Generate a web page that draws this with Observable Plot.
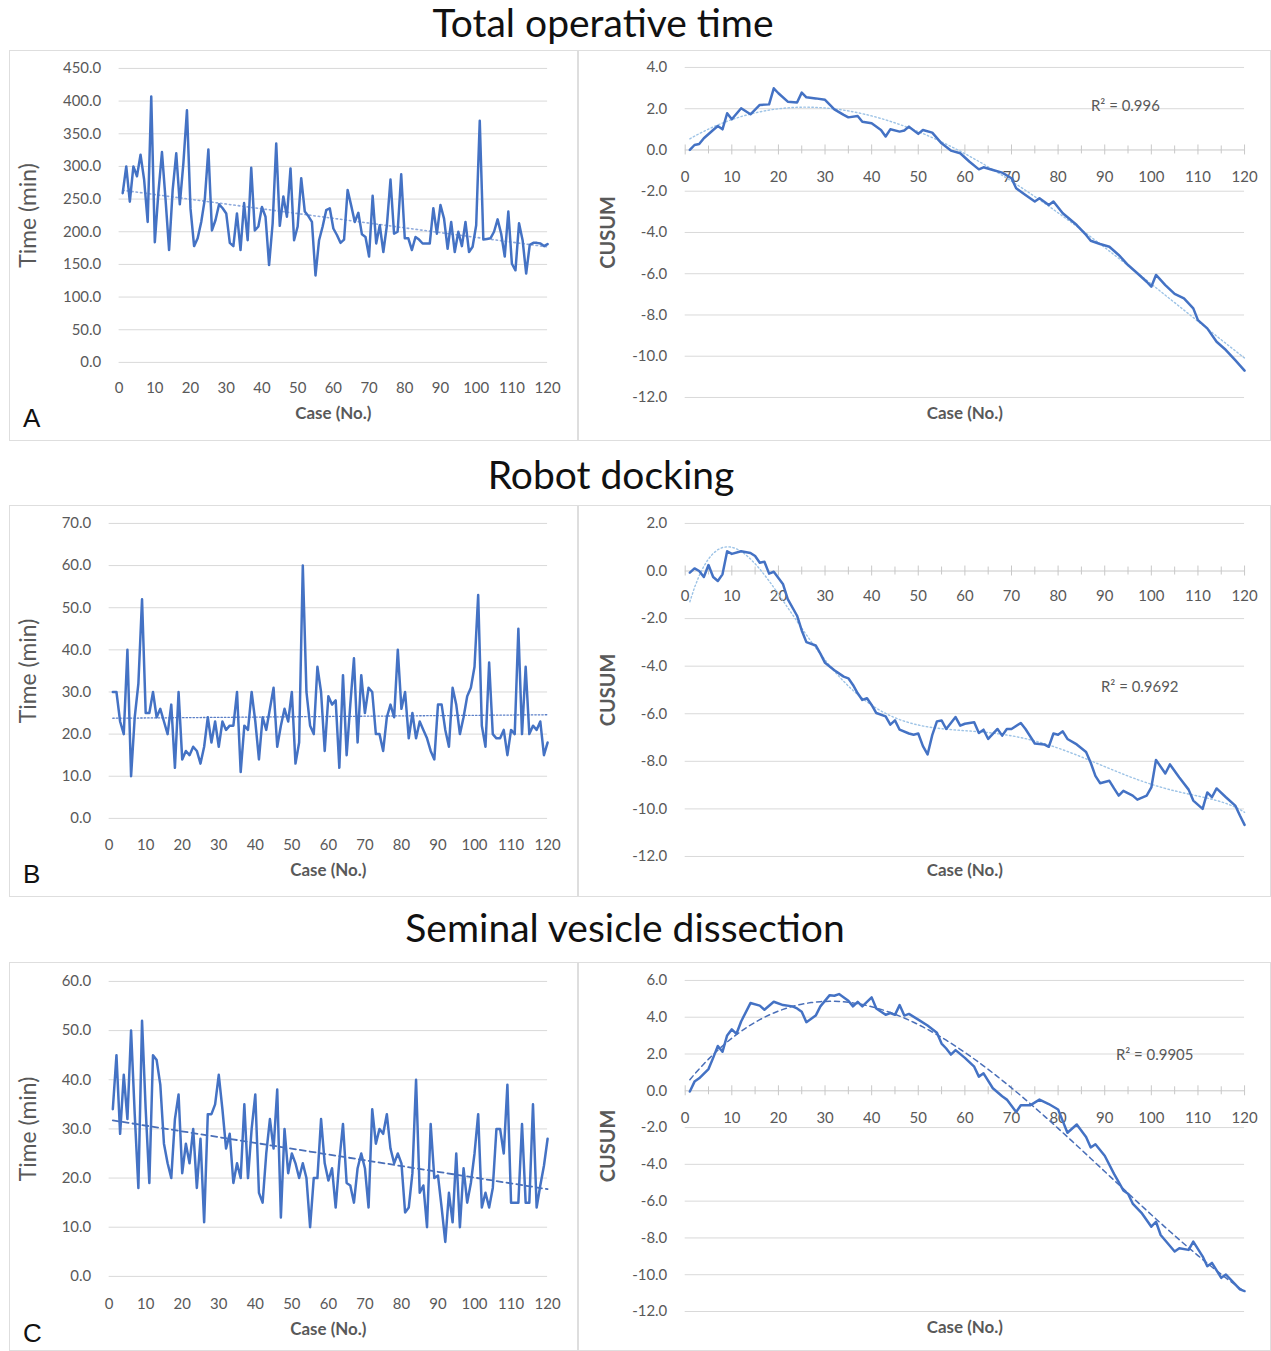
<!DOCTYPE html>
<html>
<head>
<meta charset="utf-8">
<script src="https://cdn.jsdelivr.net/npm/d3@7"></script>
<script src="https://cdn.jsdelivr.net/npm/@observablehq/plot@0.6"></script>
<style>
  html, body { margin: 0; padding: 0; background: #ffffff; }
  #fig { position: relative; width: 1271px; height: 1351px; overflow: hidden; font-family: Lato, "Open Sans", sans-serif; background: #fff; }
  .title { position: absolute; width: 800px; text-align: center; font-size: 39px; line-height: 39px; color: #111; white-space: nowrap; }
  .panel { position: absolute; border: 1px solid #dedede; box-sizing: border-box; }
  .panel svg { position: absolute; left: -1px; top: -1px; }
  .letter { position: absolute; font-family: "Liberation Sans", Arial, sans-serif; font-size: 26px; line-height: 26px; color: #111; }
</style>
</head>
<body>
<div id="fig"></div>
<script>
// ---------------- DATA ----------------
const titles = ["Total operative time", "Robot docking", "Seminal vesicle dissection"];
const panelLetters = ["A", "B", "C"];
const r2Labels = ["R² = 0.996", "R² = 0.9692", "R² = 0.9905"];
const xAxisLabel = "Case (No.)";
const timeLabel = "Time (min)";
const cusumLabel = "CUSUM";

const caseTicks = [0, 10, 20, 30, 40, 50, 60, 70, 80, 90, 100, 110, 120];
const caseMinorTicks = [5, 15, 25, 35, 45, 55, 65, 75, 85, 95, 105, 115];
const totalTimeTicks = [0, 50, 100, 150, 200, 250, 300, 350, 400, 450];
const dockingTimeTicks = [0, 10, 20, 30, 40, 50, 60, 70];
const svdTimeTicks = [0, 10, 20, 30, 40, 50, 60];
const cusumTotalTicks = [-12, -10, -8, -6, -4, -2, 0, 2, 4];
const cusumDockingTicks = [-12, -10, -8, -6, -4, -2, 0, 2];
const cusumSvdTicks = [-12, -10, -8, -6, -4, -2, 0, 2, 4, 6];

// case numbers 1..120
const cases = [];
for (let c = 1; c <= 120; c++) cases.push(c);

// Total operative time (min), cases 1..120
const totalTime = [
  259,300,246,300,285,318,280,215,407,184,
  260,322,250,172,264,320,242,305,386,235,
  178,190,215,250,326,202,218,242,236,228,
  183,178,228,172,244,187,298,202,208,238,
  223,149,213,335,209,254,223,297,187,208,
  282,231,224,215,133,187,208,233,236,205,
  195,183,188,264,240,215,229,196,192,162,
  255,182,210,169,210,280,197,200,288,190,
  190,172,192,188,182,182,182,236,197,241,
  220,174,215,169,200,178,215,169,177,210,
  370,188,189,190,200,219,197,162,231,151,
  141,213,187,136,180,183,183,182,178,181
];

// Robot docking time (min), cases 1..120
const dockingTime = [
  30,30,23,20,40,10,24,32,52,25,
  25,30,24,26,23,20,27,12,30,14,
  16,15,17,16,13,17,24,18,23,17,
  23,21,22,22,30,11,22,21,30,23,
  14,24,21,26,31,17,22,26,23,30,
  13,18,60,30,22,20,36,30,16,29,
  27,28,12,34,15,27,38,18,34,25,
  31,30,20,20,16,24,27,24,40,26,
  30,19,25,19,23,21,19,16,14,27,
  27,21,17,31,27,20,24,29,31,36,
  53,22,17,37,20,19,19,21,15,21,
  20,45,20,36,20,22,21,23,15,18
];

// Seminal vesicle dissection time (min), cases 1..120
const svdTime = [
  34,45,29,41,32,50,33,18,52,34,
  19,45,44,39,27,23,20,32,37,21,
  27,23,30,18,28,11,33,33,35,41,
  34,26,29,19,23,20,35,20,30,37,
  17,15,25,32,26,38,12,30,21,25,
  23,20,23,20,10,20,20,32,23,19.5,
  22,14,23.5,31,19,18.5,15,22,25,22,
  14,34,27,30,29,33,26,23,25,23,
  13,14,21,40,17,18.5,10,31,20,20.5,
  14,7,17,11,25,10,22,15,19,25,
  33,14,17,14,18,30,30,25,39,15,
  15,15,31,15,15,35,14,18.5,22.5,28
];

// CUSUM curves: [case, CUSUM]
const cusumTotal = [
  [1,0.0],[2,0.24],[3,0.29],[4,0.57],[6,0.97],[7,1.16],[8,1.0],[9,1.78],[10,1.49],[12,2.02],
  [14,1.73],[16,2.18],[18,2.21],[19,2.99],[20,2.75],[22,2.34],[24,2.3],[25,2.78],[26,2.55],[28,2.5],
  [30,2.43],[32,1.97],[34,1.7],[35,1.58],[37,1.65],[38,1.37],[40,1.29],[42,0.97],[43,0.65],[44,1.0],
  [46,0.89],[47,0.94],[48,1.13],[50,0.78],[51,0.97],[53,0.84],[55,0.32],[57,-0.03],[59,-0.16],[61,-0.57],
  [63,-0.94],[64,-0.84],[66,-0.97],[68,-1.1],[70,-1.37],[71,-1.86],[73,-2.18],[75,-2.5],[76,-2.34],[78,-2.67],
  [79,-2.5],[81,-3.07],[84,-3.64],[86,-4.12],[87,-4.4],[89,-4.56],[91,-4.69],[93,-5.09],[95,-5.58],[97,-5.98],
  [99,-6.39],[100,-6.63],[101,-6.06],[103,-6.55],[105,-6.98],[107,-7.2],[109,-7.68],[110,-8.25],[112,-8.65],[114,-9.3],
  [116,-9.7],[118,-10.19],[120,-10.7]
];

const cusumDocking = [
  [1,-0.07],[2,0.11],[3,0.0],[4,-0.25],[5,0.25],[6,-0.25],[7,-0.42],[8,-0.14],[9,0.83],[10,0.72],
  [12,0.83],[14,0.76],[15,0.63],[16,0.35],[17,0.39],[18,-0.11],[19,-0.03],[21,-0.56],[22,-1.18],[24,-1.88],
  [25,-2.5],[26,-2.99],[28,-3.13],[29,-3.47],[30,-3.86],[32,-4.17],[34,-4.44],[35,-4.51],[36,-4.79],[37,-5.14],
  [38,-5.42],[39,-5.35],[40,-5.63],[41,-5.97],[43,-6.11],[44,-6.46],[45,-6.28],[46,-6.67],[48,-6.83],[49,-6.88],
  [50,-6.83],[51,-7.36],[52,-7.71],[53,-6.9],[54,-6.32],[55,-6.28],[56,-6.64],[58,-6.14],[59,-6.5],[60,-6.42],
  [62,-6.36],[63,-6.81],[64,-6.67],[65,-7.06],[67,-6.64],[68,-6.92],[69,-6.64],[70,-6.64],[72,-6.39],[73,-6.64],
  [75,-7.25],[77,-7.29],[78,-7.39],[79,-6.83],[80,-6.88],[81,-6.74],[82,-7.06],[84,-7.29],[86,-7.61],[87,-8.06],
  [88,-8.61],[89,-8.92],[91,-8.82],[92,-9.14],[93,-9.44],[94,-9.24],[96,-9.44],[97,-9.61],[99,-9.44],[100,-9.1],
  [101,-7.94],[103,-8.51],[104,-8.13],[106,-8.68],[108,-9.19],[109,-9.65],[111,-10.0],[112,-9.31],[113,-9.51],[114,-9.14],
  [116,-9.51],[118,-9.86],[119,-10.28],[120,-10.67]
];

const cusumSvd = [
  [1,-0.04],[2,0.5],[3,0.68],[5,1.18],[6,1.79],[7,2.44],[8,2.12],[9,3.01],[10,3.34],[11,3.1],
  [12,3.77],[14,4.77],[16,4.63],[17,4.41],[19,4.84],[21,4.66],[23,4.59],[24,4.48],[25,4.3],[26,3.73],
  [28,4.09],[29,4.59],[31,5.2],[32,5.17],[33,5.26],[35,4.9],[36,4.59],[37,4.84],[38,4.59],[40,5.08],
  [41,4.48],[43,4.13],[44,4.23],[45,4.13],[46,4.66],[47,4.09],[48,4.18],[50,3.87],[52,3.55],[54,3.16],
  [55,2.57],[56,2.3],[57,1.97],[58,2.21],[60,1.79],[62,1.31],[63,0.77],[64,0.95],[66,0.14],[68,-0.3],
  [69,-0.48],[71,-1.15],[72,-0.79],[74,-0.79],[76,-0.48],[78,-0.72],[80,-1.02],[81,-1.65],[82,-2.28],[84,-1.83],
  [86,-2.51],[87,-3.08],[88,-2.91],[90,-3.53],[92,-4.52],[94,-5.42],[95,-5.6],[96,-6.13],[98,-6.67],[100,-7.39],
  [101,-7.12],[102,-7.84],[105,-8.74],[106,-8.56],[108,-8.65],[109,-8.2],[111,-9.0],[112,-9.54],[113,-9.36],[115,-10.17],
  [116,-9.99],[118,-10.53],[119,-10.8],[120,-10.89]
];

// ---------------- HELPERS ----------------
const BLUE = "#4472c4";
const FONT = "Lato, 'Open Sans', sans-serif";
const GRID = "#d9d9d9";
const LABEL = "#595959";

// least-squares polynomial trend (like a spreadsheet trendline)
function polyFit(points, deg) {
  const n = deg + 1, s = 120;
  const M = Array.from({length: n}, () => new Array(n + 1).fill(0));
  for (const [x, y] of points) {
    const t = x / s;
    for (let i = 0; i < n; i++) {
      for (let j = 0; j < n; j++) M[i][j] += Math.pow(t, i + j);
      M[i][n] += Math.pow(t, i) * y;
    }
  }
  for (let col = 0; col < n; col++) {
    let piv = col;
    for (let r = col + 1; r < n; r++) if (Math.abs(M[r][col]) > Math.abs(M[piv][col])) piv = r;
    [M[col], M[piv]] = [M[piv], M[col]];
    for (let r = 0; r < n; r++) {
      if (r === col) continue;
      const f = M[r][col] / M[col][col];
      for (let k = col; k <= n; k++) M[r][k] -= f * M[col][k];
    }
  }
  const coef = M.map((row, i) => row[n] / row[i]);
  return x => coef.reduce((acc, c, i) => acc + c * Math.pow(x / s, i), 0);
}

const fig = document.getElementById("fig");

function addDiv(cls, css, text) {
  const d = document.createElement("div");
  d.className = cls;
  Object.assign(d.style, css);
  if (text != null) d.textContent = text;
  fig.appendChild(d);
  return d;
}

function leftPlot(o) {
  const data = cases.map((c, i) => ({c, v: o.values[i]}));
  return Plot.plot({
    width: o.w, height: o.h,
    marginTop: o.mt, marginBottom: o.mb, marginLeft: o.ml, marginRight: o.mr,
    style: {fontFamily: FONT, fontSize: "15px", color: LABEL, background: "transparent"},
    x: {domain: [0, 120], ticks: caseTicks, tickSize: 0, tickPadding: o.xpad, tickFormat: d => String(d), label: null},
    y: {domain: [0, o.ticks[o.ticks.length - 1]], ticks: o.ticks, tickSize: 0, tickPadding: 18, tickFormat: d => d.toFixed(1), label: null},
    marks: [
      Plot.ruleY(o.ticks, {stroke: GRID, strokeWidth: 1}),
      Plot.linearRegressionY(data, {x: "c", y: "v", ci: 0, stroke: o.trendColor, strokeWidth: o.trendWidth, strokeDasharray: o.trendDash}),
      Plot.line(data, {x: "c", y: "v", stroke: BLUE, strokeWidth: 2.5, strokeLinejoin: "round"}),
      Plot.text([timeLabel], {frameAnchor: "left", dx: o.tlx, rotate: -90, textAnchor: "middle", lineAnchor: "middle", fontSize: 23, fill: LABEL}),
      Plot.text([xAxisLabel], {frameAnchor: "bottom", dy: o.cly, textAnchor: "middle", lineAnchor: "middle", fontSize: 17, fontWeight: "bold", fill: LABEL})
    ]
  });
}

function rightPlot(o) {
  const data = o.points.map(([c, v]) => ({c, v}));
  const fit = polyFit(o.points, o.deg);
  const trend = cases.map(c => ({c, v: fit(c)}));
  return Plot.plot({
    width: o.w, height: o.h,
    marginTop: o.mt, marginBottom: o.mb, marginLeft: o.ml, marginRight: o.mr,
    style: {fontFamily: FONT, fontSize: "15px", color: LABEL, background: "transparent"},
    x: {domain: [0, 120], axis: null},
    y: {domain: [o.ticks[0], o.ticks[o.ticks.length - 1]], ticks: o.ticks, tickSize: 0, tickPadding: 18, tickFormat: d => d.toFixed(1), label: null},
    marks: [
      Plot.ruleY(o.ticks.filter(t => t !== 0), {stroke: GRID, strokeWidth: 1}),
      Plot.ruleY(o.ticks.filter(t => t === 0), {stroke: "#c8c8c8", strokeWidth: 1}),
      Plot.ruleX(caseTicks, {x: d => d, y1: () => 0, y2: () => 0, insetTop: -5, insetBottom: -5, stroke: "#c8c8c8"}),
      Plot.ruleX(caseMinorTicks, {x: d => d, y1: () => 0, y2: () => 0, insetTop: -4, insetBottom: -4, stroke: "#c8c8c8"}),
      Plot.text(caseTicks, {x: d => d, y: () => 0, dy: o.tickDy, text: d => String(d), fontSize: 15, fill: LABEL}),
      Plot.line(trend, {x: "c", y: "v", stroke: o.trendColor, strokeWidth: o.trendWidth, strokeDasharray: o.trendDash}),
      Plot.line(data, {x: "c", y: "v", stroke: BLUE, strokeWidth: 2.5, strokeLinejoin: "round"}),
      Plot.text([cusumLabel], {frameAnchor: "left", dx: -77, rotate: -90, textAnchor: "middle", lineAnchor: "middle", fontSize: 20, fontWeight: "bold", fill: LABEL}),
      Plot.text([xAxisLabel], {frameAnchor: "bottom", dy: o.cly, textAnchor: "middle", lineAnchor: "middle", fontSize: 17, fontWeight: "bold", fill: LABEL}),
      Plot.text([o.r2], {frameAnchor: "top-left", dx: o.r2dx, dy: o.r2dy, textAnchor: "start", lineAnchor: "middle", fontSize: 15, fill: LABEL})
    ]
  });
}

// ---------------- LAYOUT ----------------
const rows = [
  {top: 50, h: 391, titleCenter: 603, titleTop: 3, letterTop: 405,
   left: {values: totalTime, ticks: totalTimeTicks, mt: 18, mb: 78, ml: 110, mr: 29, xpad: 20, tlx: -91, cly: 51,
          trendColor: "#8faadc", trendWidth: 1.6, trendDash: "1.5,3"},
   right: {points: cusumTotal, ticks: cusumTotalTicks, deg: 3, mt: 17, mb: 43, ml: 107, mr: 25, tickDy: 27, cly: 16,
           r2: r2Labels[0], r2dx: 407, r2dy: 39, trendColor: "#9dc3e6", trendWidth: 1.4, trendDash: "1.5,2.5"}},
  {top: 505, h: 392, titleCenter: 611, titleTop: 455, letterTop: 861,
   left: {values: dockingTime, ticks: dockingTimeTicks, mt: 18, mb: 78, ml: 100, mr: 29, xpad: 21, tlx: -81, cly: 52,
          trendColor: "#5b7fc7", trendWidth: 1.3, trendDash: "1.5,2"},
   right: {points: cusumDocking, ticks: cusumDockingTicks, deg: 6, mt: 18, mb: 40, ml: 107, mr: 25, tickDy: 25, cly: 14,
           r2: r2Labels[1], r2dx: 417, r2dy: 164, trendColor: "#9dc3e6", trendWidth: 1.4, trendDash: "1.5,2.5"}},
  {top: 962, h: 389, titleCenter: 625, titleTop: 908, letterTop: 1320,
   left: {values: svdTime, ticks: svdTimeTicks, mt: 19, mb: 74, ml: 100, mr: 29, xpad: 22, tlx: -81, cly: 53,
          trendColor: "#4a6fb8", trendWidth: 1.8, trendDash: "6,4"},
   right: {points: cusumSvd, ticks: cusumSvdTicks, deg: 3, mt: 18, mb: 39, ml: 107, mr: 25, tickDy: 27, cly: 16,
           r2: r2Labels[2], r2dx: 432, r2dy: 75, trendColor: "#4a6fb8", trendWidth: 1.5, trendDash: "5,4"}}
];

rows.forEach((row, i) => {
  addDiv("title", {left: (row.titleCenter - 400) + "px", top: row.titleTop + "px"}, titles[i]);
  const lp = addDiv("panel", {left: "9px", top: row.top + "px", width: "569px", height: row.h + "px"});
  lp.appendChild(leftPlot(Object.assign({w: 569, h: row.h}, row.left)));
  const rp = addDiv("panel", {left: "578px", top: row.top + "px", width: "693px", height: row.h + "px"});
  rp.appendChild(rightPlot(Object.assign({w: 693, h: row.h}, row.right)));
  addDiv("letter", {left: "23px", top: row.letterTop + "px"}, panelLetters[i]);
});
</script>
</body>
</html>
